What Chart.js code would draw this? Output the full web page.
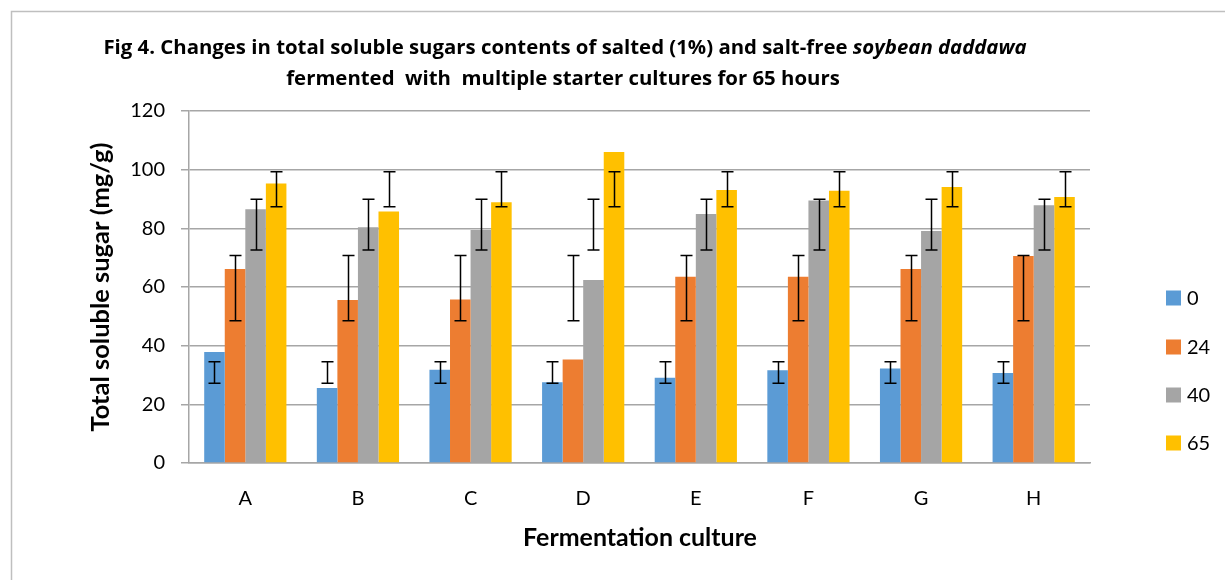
<!DOCTYPE html>
<html><head><meta charset="utf-8">
<script src="https://cdn.jsdelivr.net/npm/chart.js@4"></script>
<style>html,body{margin:0;padding:0;background:#fff}#wrap{position:relative;width:1225px;height:580px}</style>
</head><body><div id="wrap"><canvas id="c" width="1225" height="580"></canvas></div>
<script>
// ---- data ----
const categories = ['A','B','C','D','E','F','G','H'];
const seriesLabels = ['0','24','40','65'];
const hours0  = [37.8, 25.6, 31.8, 27.5, 29.1, 31.6, 32.2, 30.7];
const hours24 = [66.1, 55.6, 55.7, 35.3, 63.5, 63.5, 66.1, 70.6];
const hours40 = [86.5, 80.4, 79.4, 62.4, 84.9, 89.5, 79.1, 87.9];
const hours65 = [95.3, 85.7, 88.9, 106.0, 93.1, 92.8, 94.1, 90.7];
const errLow0   = [27.2, 27.2, 27.2, 27.2, 27.2, 27.2, 27.2, 27.2];
const errHigh0  = [34.5, 34.5, 34.5, 34.5, 34.5, 34.5, 34.5, 34.5];
const errLow24  = [48.5, 48.5, 48.5, 48.5, 48.5, 48.5, 48.5, 48.5];
const errHigh24 = [70.7, 70.7, 70.7, 70.7, 70.7, 70.7, 70.7, 70.7];
const errLow40  = [72.6, 72.6, 72.6, 72.6, 72.6, 72.6, 72.6, 72.6];
const errHigh40 = [89.9, 89.9, 89.9, 89.9, 89.9, 89.9, 89.9, 89.9];
const errLow65  = [87.4, 87.4, 87.4, 87.4, 87.4, 87.4, 87.4, 87.4];
const errHigh65 = [99.3, 99.3, 99.3, 99.3, 99.3, 99.3, 99.3, 99.3];
const yTicks = [0, 20, 40, 60, 80, 100, 120];
const titleLine1 = 'Fig 4. Changes in total soluble sugars contents of salted (1%) and salt-free ';
const titleItalic = 'soybean daddawa';
const titleLine2 = 'fermented  with  multiple starter cultures for 65 hours';
const yTitle = 'Total soluble sugar (mg/g)';
const xTitle = 'Fermentation culture';

const FONT = 'Lato, "Open Sans", sans-serif';
const TFONT = '"Open Sans", Lato, sans-serif';
const colors = ['#5B9BD5', '#ED7D31', '#A5A5A5', '#FFC000'];
const seriesValues = [hours0, hours24, hours40, hours65];
const errLows = [errLow0, errLow24, errLow40, errLow65];
const errHighs = [errHigh0, errHigh24, errHigh40, errHigh65];

function fitSize(ctx, parts, family, target) {
  let w = 0;
  parts.forEach(p => { ctx.font = (p.it ? 'italic ' : '') + 'bold 20px ' + family; w += ctx.measureText(p.t).width; });
  return 20 * target / w;
}

const decor = {
  id: 'decor',
  beforeDraw(chart) {
    const ctx = chart.ctx;
    ctx.save();
    ctx.fillStyle = '#fff';
    ctx.fillRect(0, 0, chart.width, chart.height);
    ctx.strokeStyle = '#bfbfbf';
    ctx.lineWidth = 1.5;
    ctx.beginPath();
    ctx.moveTo(11.5, 580); ctx.lineTo(11.5, 11.5); ctx.lineTo(1225, 11.5);
    ctx.stroke();
    ctx.restore();
  },
  afterDatasetsDraw(chart) {
    const ctx = chart.ctx, ys = chart.scales.y;
    ctx.save();
    ctx.strokeStyle = '#000';
    ctx.lineWidth = 1.5;
    chart.data.datasets.forEach((ds, i) => {
      const meta = chart.getDatasetMeta(i);
      meta.data.forEach((el, j) => {
        const x = Math.round(el.x) + 0.5;
        const yl = ys.getPixelForValue(errLows[i][j]);
        const yh = ys.getPixelForValue(errHighs[i][j]);
        ctx.beginPath();
        ctx.moveTo(x, yl); ctx.lineTo(x, yh);
        ctx.moveTo(x - 6, yl); ctx.lineTo(x + 6, yl);
        ctx.moveTo(x - 6, yh); ctx.lineTo(x + 6, yh);
        ctx.stroke();
      });
    });
    ctx.restore();
  },
  afterDraw(chart) {
    const ctx = chart.ctx;
    ctx.save();
    ctx.fillStyle = '#000';
    ctx.textBaseline = 'middle';
    // title
    const ts = fitSize(ctx, [{t: titleLine1}, {t: titleItalic, it: true}], TFONT, 924);
    const fN = 'bold ' + ts + 'px ' + TFONT, fI = 'italic bold ' + ts + 'px ' + TFONT;
    ctx.font = fN; const w1 = ctx.measureText(titleLine1).width;
    ctx.font = fI; const w2 = ctx.measureText(titleItalic).width;
    const x0 = 565 - (w1 + w2) / 2;
    ctx.textAlign = 'left';
    ctx.font = fN; ctx.fillText(titleLine1, x0, 48);
    ctx.font = fI; ctx.fillText(titleItalic, x0 + w1, 48);
    ctx.font = fN; ctx.textAlign = 'center';
    ctx.fillText(titleLine2, 563, 79);
    // axis titles
    const xs = fitSize(ctx, [{t: xTitle}], FONT, 234);
    ctx.font = 'bold ' + xs + 'px ' + FONT;
    ctx.fillText(xTitle, 640, 538);
    const ys = fitSize(ctx, [{t: yTitle}], FONT, 289);
    ctx.save();
    ctx.translate(101, 287);
    ctx.rotate(-Math.PI / 2);
    ctx.font = 'bold ' + ys + 'px ' + FONT;
    ctx.fillText(yTitle, 0, 0);
    ctx.restore();
    // legend
    ctx.font = '20px ' + FONT;
    ctx.textAlign = 'left';
    const ly = [298, 347, 395, 443];
    chart.data.datasets.forEach((ds, i) => {
      ctx.fillStyle = ds.backgroundColor;
      ctx.fillRect(1166, ly[i] - 7.5, 15, 15);
      ctx.fillStyle = '#000';
      ctx.fillText(ds.label, 1187, ly[i] + 1);
    });
    ctx.restore();
  }
};

new Chart(document.getElementById('c'), {
  type: 'bar',
  data: {
    labels: categories,
    datasets: seriesLabels.map((l, i) => ({
      label: l,
      data: seriesValues[i],
      backgroundColor: colors[i],
      borderWidth: 0,
      categoryPercentage: 0.73,
      barPercentage: 1.0
    }))
  },
  options: {
    responsive: false,
    animation: false,
    devicePixelRatio: 1,
    layout: { padding: { left: 0, right: 135, top: 111, bottom: 0 } },
    plugins: { legend: { display: false }, title: { display: false }, tooltip: { enabled: false } },
    scales: {
      x: {
        grid: { display: false, drawTicks: false },
        border: { display: true, color: '#a6a6a6', width: 1.5 },
        ticks: { color: '#000', font: { family: FONT, size: 20 }, padding: 24 },
        afterFit(s) { s.height = 117; }
      },
      y: {
        min: 0, max: 120,
        afterBuildTicks(s) { s.ticks = yTicks.map(v => ({ value: v })); },
        grid: { color: '#a6a6a6', lineWidth: 1.5, tickLength: 8, tickColor: '#a6a6a6' },
        border: { display: true, color: '#a6a6a6', width: 1.5 },
        ticks: { color: '#000', font: { family: FONT, size: 20 }, padding: 16 },
        afterFit(s) { s.width = 189; }
      }
    }
  },
  plugins: [decor]
});
</script></body></html>
